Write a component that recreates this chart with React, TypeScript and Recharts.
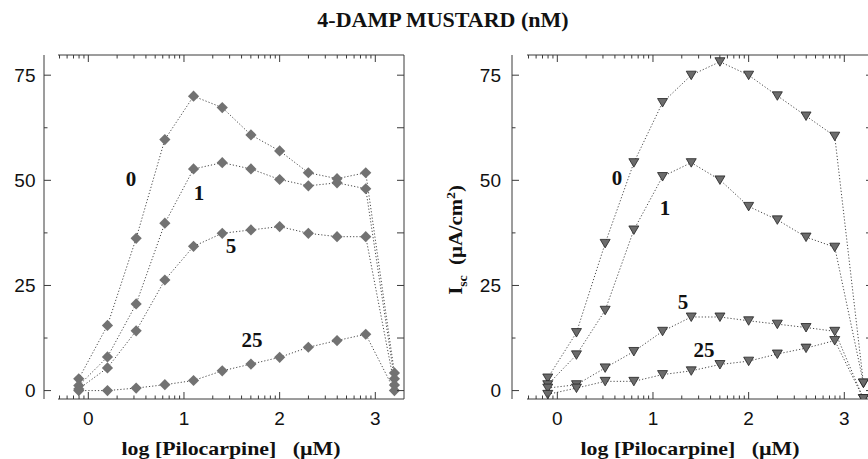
import { Line, LineChart, ReferenceLine, XAxis, YAxis } from "recharts";

// log [Pilocarpine] (µM) for every point
const logPilocarpine = [-0.1, 0.2, 0.5, 0.8, 1.1, 1.4, 1.7, 2.0, 2.3, 2.6, 2.9, 3.2];
const mustardLevels = ["0", "1", "5", "25"];

// left panel (diamonds)
const leftNm0 = [2.8, 15.5, 36.2, 59.7, 70.0, 67.3, 60.8, 57.0, 51.8, 50.4, 51.8, 4.2];
const leftNm1 = [1.2, 8.0, 20.6, 39.8, 52.7, 54.2, 52.7, 50.2, 48.7, 49.4, 48.0, 2.8];
const leftNm5 = [0.4, 5.4, 14.2, 26.3, 34.3, 37.4, 38.2, 39.0, 37.4, 36.6, 36.6, 1.3];
const leftNm25 = [0, 0, 0.6, 1.4, 2.4, 4.7, 6.3, 7.9, 10.3, 11.9, 13.4, 0];

// right panel (triangles)
const rightNm0 = [3.0, 13.8, 35.0, 54.2, 68.5, 75.0, 78.2, 75.0, 70.1, 65.3, 60.5, 1.8];
const rightNm1 = [1.4, 8.5, 19.1, 38.2, 50.9, 54.2, 50.1, 43.8, 40.6, 36.5, 34.1, 1.8];
const rightNm5 = [0.6, 1.4, 5.4, 9.3, 14.1, 17.5, 17.5, 16.6, 15.8, 15.0, 14.1, -1.9];
const rightNm25 = [-0.9, 0.6, 2.2, 2.2, 3.8, 4.7, 6.2, 7.0, 8.7, 10.1, 11.9, -1.9];

const xMajorTicks = [0, 1, 2, 3];
const xMinorMultipliers = [2, 3, 4, 5, 6, 7, 8, 9];
const yTicks = [0, 12.5, 25, 37.5, 50, 62.5, 75];
const yLabelTicks = [0, 25, 50, 75];

const X_DOMAIN: [number, number] = [-0.317, 3.3];
const Y_DOMAIN: [number, number] = [-2, 79.8];

const AXIS = "#3a3a3a";
const LINE = "#4a4a4a";
const SERIF = "'Liberation Serif', 'Times New Roman', serif";
const SANS = "'Liberation Sans', Arial, sans-serif";

const xMinorTicks: number[] = [];
[-1, 0, 1, 2, 3].forEach((d) => {
  xMinorMultipliers.forEach((m) => {
    const v = Math.log10(m) + d;
    if (v > X_DOMAIN[0] && v < X_DOMAIN[1]) xMinorTicks.push(v);
  });
});
const xTicks = [...xMajorTicks, ...xMinorTicks].sort((a, b) => a - b);

function Diamond({ cx, cy }: any) {
  if (cx == null || cy == null) return null;
  const r = 5.6;
  return <path d={`M${cx},${cy - r}L${cx + r},${cy}L${cx},${cy + r}L${cx - r},${cy}Z`} fill="#727272" />;
}

function TriangleDown({ cx, cy }: any) {
  if (cx == null || cy == null) return null;
  return (
    <path
      d={`M${cx - 5},${cy - 4}L${cx + 5},${cy - 4}L${cx},${cy + 4.5}Z`}
      fill="#6b6b6b"
      stroke="#222"
      strokeWidth={0.8}
    />
  );
}

function BottomTick({ x, y, payload }: any) {
  const major = xMajorTicks.includes(payload.value);
  return (
    <g>
      <line x1={x} y1={y} x2={x} y2={y - (major ? 7 : 3.5)} stroke={AXIS} />
      {major ? (
        <text x={x} y={y + 19} textAnchor="middle" dominantBaseline="central" fontSize={19} fontFamily={SANS} fill="#111">
          {payload.value}
        </text>
      ) : null}
    </g>
  );
}

function TopTick({ x, y, payload }: any) {
  const major = xMajorTicks.includes(payload.value);
  return <line x1={x} y1={y} x2={x} y2={y + (major ? 7 : 3.5)} stroke={AXIS} />;
}

function LeftTick({ x, y, payload, gap }: any) {
  const major = yLabelTicks.includes(payload.value);
  return (
    <g>
      <line x1={x} y1={y} x2={x + (major ? 7 : 3.5)} y2={y} stroke={AXIS} />
      {major ? (
        <text x={x - gap} y={y} textAnchor="end" dominantBaseline="central" fontSize={19} fontFamily={SANS} fill="#111">
          {payload.value}
        </text>
      ) : null}
    </g>
  );
}

function RightTick({ x, y }: any) {
  return <line x1={x} y1={y} x2={x - 7} y2={y} stroke={AXIS} />;
}

type PanelProps = {
  left: number;
  width: number;
  yAxisWidth: number;
  rightAxisWidth: number;
  padLeft: number;
  labelGap: number;
  series: number[][];
  marker: "diamond" | "triangle";
};

function Panel({ left, width, yAxisWidth, rightAxisWidth, padLeft, labelGap, series, marker }: PanelProps) {
  const rows = logPilocarpine.map((x, i) => {
    const row: Record<string, number> = { x };
    mustardLevels.forEach((lvl, k) => {
      row[`nm${lvl}`] = series[k][i];
    });
    return row;
  });
  const Marker = marker === "diamond" ? Diamond : TriangleDown;

  return (
    <div style={{ position: "absolute", left, top: 0 }}>
      <LineChart width={width} height={459} data={rows} margin={{ top: 0, right: 0, bottom: 0, left: 0 }}>
        <XAxis
          xAxisId="bottom"
          type="number"
          dataKey="x"
          domain={X_DOMAIN}
          allowDataOverflow
          ticks={xTicks}
          interval={0}
          padding={{ left: padLeft, right: 0 }}
          height={60}
          axisLine={false}
          tickLine={false}
          tickSize={0}
          tickMargin={0}
          tick={BottomTick}
        />
        <XAxis
          xAxisId="top"
          orientation="top"
          type="number"
          dataKey="x"
          domain={X_DOMAIN}
          allowDataOverflow
          ticks={xTicks}
          interval={0}
          padding={{ left: padLeft, right: 0 }}
          height={55}
          axisLine={false}
          tickLine={false}
          tickSize={0}
          tickMargin={0}
          tick={TopTick}
        />
        <YAxis
          yAxisId="left"
          type="number"
          domain={Y_DOMAIN}
          allowDataOverflow
          ticks={yTicks}
          interval={0}
          width={yAxisWidth}
          axisLine={{ stroke: AXIS }}
          tickLine={false}
          tickSize={0}
          tickMargin={0}
          tick={(p: any) => <LeftTick {...p} gap={labelGap} />}
        />
        <YAxis
          yAxisId="right"
          orientation="right"
          type="number"
          domain={Y_DOMAIN}
          allowDataOverflow
          ticks={yTicks}
          interval={0}
          width={rightAxisWidth}
          axisLine={{ stroke: AXIS }}
          tickLine={false}
          tickSize={0}
          tickMargin={0}
          tick={RightTick}
        />
        <ReferenceLine
          xAxisId="bottom"
          yAxisId="left"
          segment={[
            { x: X_DOMAIN[0], y: Y_DOMAIN[0] },
            { x: X_DOMAIN[1], y: Y_DOMAIN[0] },
          ]}
          stroke={AXIS}
          ifOverflow="visible"
        />
        <ReferenceLine
          xAxisId="bottom"
          yAxisId="left"
          segment={[
            { x: X_DOMAIN[0], y: Y_DOMAIN[1] },
            { x: X_DOMAIN[1], y: Y_DOMAIN[1] },
          ]}
          stroke={AXIS}
          ifOverflow="visible"
        />
        {mustardLevels.map((lvl) => (
          <Line
            key={lvl}
            xAxisId="bottom"
            yAxisId="left"
            type="linear"
            dataKey={`nm${lvl}`}
            stroke={LINE}
            strokeWidth={1}
            strokeDasharray="1.2 2"
            dot={(p: any) => <Marker key={`${lvl}-${p.index}`} cx={p.cx} cy={p.cy} />}
            activeDot={false}
            isAnimationActive={false}
          />
        ))}
      </LineChart>
    </div>
  );
}

const seriesLabelStyle = (x: number, y: number): React.CSSProperties => ({
  position: "absolute",
  left: x,
  top: y,
  transform: "translate(-50%, -50%)",
  fontFamily: SERIF,
  fontWeight: "bold",
  fontSize: 21,
  lineHeight: 1,
  color: "#111",
  whiteSpace: "nowrap",
});

const leftLabelPos = [
  [131, 179],
  [199, 193],
  [231, 246],
  [252, 340],
];
const rightLabelPos = [
  [617, 178],
  [665, 208],
  [683, 302],
  [704, 350],
];

const axisTitleStyle = (x: number, y: number, extra = ""): React.CSSProperties => ({
  position: "absolute",
  left: x,
  top: y,
  transform: `translate(-50%, -50%) ${extra}`,
  fontFamily: SERIF,
  fontWeight: "bold",
  lineHeight: 1,
  color: "#111",
  whiteSpace: "pre",
});

export default function App() {
  return (
    <div
      style={{
        position: "absolute",
        left: 0,
        top: 0,
        width: 868,
        height: 459,
        overflow: "hidden",
        background: "#fff",
      }}
    >
      <Panel
        left={0}
        width={440}
        yAxisWidth={44}
        rightAxisWidth={36}
        padLeft={14}
        labelGap={8.5}
        series={[leftNm0, leftNm1, leftNm5, leftNm25]}
        marker="diamond"
      />
      <Panel
        left={430}
        width={460}
        yAxisWidth={82}
        rightAxisWidth={17}
        padLeft={15}
        labelGap={11}
        series={[rightNm0, rightNm1, rightNm5, rightNm25]}
        marker="triangle"
      />

      <div style={{ ...axisTitleStyle(443, 20, "scaleX(1.1)"), fontSize: 20 }}>4-DAMP MUSTARD (nM)</div>

      <div style={{ ...axisTitleStyle(231, 448, "scaleX(1.15)"), fontSize: 19 }}>log [Pilocarpine]   (µM)</div>
      <div style={{ ...axisTitleStyle(690, 448, "scaleX(1.15)"), fontSize: 19 }}>log [Pilocarpine]   (µM)</div>

      <div style={{ ...axisTitleStyle(457, 240, "rotate(-90deg) scaleX(1.15)"), fontSize: 18 }}>
        I<sub style={{ fontSize: 12 }}>sc</sub>  (µA/cm<sup style={{ fontSize: 12 }}>2</sup>)
      </div>

      {mustardLevels.map((lvl, i) => (
        <div key={`l${lvl}`} style={seriesLabelStyle(leftLabelPos[i][0], leftLabelPos[i][1])}>
          {lvl}
        </div>
      ))}
      {mustardLevels.map((lvl, i) => (
        <div key={`r${lvl}`} style={seriesLabelStyle(rightLabelPos[i][0], rightLabelPos[i][1])}>
          {lvl}
        </div>
      ))}
    </div>
  );
}
